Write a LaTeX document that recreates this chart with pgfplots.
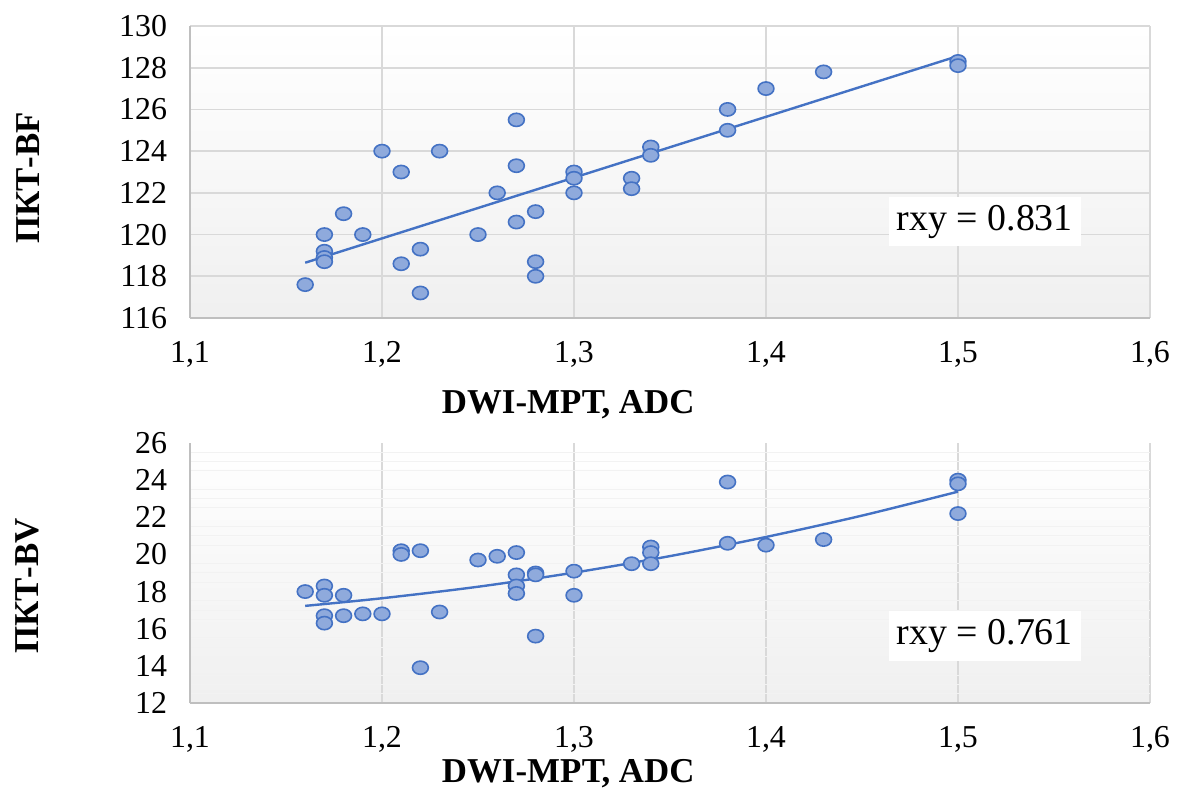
\documentclass[border=0pt]{standalone}
\usepackage{fontspec}
\setmainfont{Liberation Serif}
\usepackage{pgfplots}
\usepackage{pgfplotstable}
\pgfplotsset{compat=1.18}
\definecolor{mkfill}{HTML}{8FAADC}
\definecolor{mkline}{HTML}{4472C4}
\definecolor{gridc}{HTML}{D9D9D9}
\definecolor{axisc}{HTML}{BFBFBF}

\pgfplotstableread{
x y
1.16 117.6
1.17 120.0
1.17 119.2
1.17 118.9
1.17 118.7
1.18 121.0
1.19 120.0
1.20 124.0
1.21 123.0
1.21 118.6
1.22 119.3
1.22 117.2
1.23 124.0
1.25 120.0
1.26 122.0
1.27 125.5
1.27 123.3
1.27 120.6
1.28 121.1
1.28 118.7
1.28 118.0
1.30 123.0
1.30 122.7
1.30 122.0
1.33 122.7
1.33 122.2
1.34 124.2
1.34 123.8
1.38 126.0
1.38 125.0
1.40 127.0
1.43 127.8
1.50 128.3
1.50 128.1
}\bfdata

\pgfplotstableread{
x y
1.16 18.0
1.17 18.3
1.17 17.8
1.17 16.7
1.17 16.3
1.18 17.8
1.18 16.7
1.19 16.8
1.20 16.8
1.21 20.2
1.21 20.0
1.22 20.2
1.22 13.9
1.23 16.9
1.25 19.7
1.26 19.9
1.27 20.1
1.27 18.9
1.27 18.3
1.27 17.9
1.28 19.0
1.28 18.9
1.28 15.6
1.30 19.1
1.30 17.8
1.33 19.5
1.34 20.4
1.34 20.1
1.34 19.5
1.38 23.9
1.38 20.6
1.40 20.5
1.43 20.8
1.50 24.0
1.50 23.8
1.50 22.2
}\bvdata

\pgfplotsset{
  panel/.style={
    scale only axis,
    width=480bp,
    anchor=south west,
    xmin=1.1, xmax=1.6,
    xtick={1.1,1.2,1.3,1.4,1.5,1.6},
    xticklabels={{1,1},{1,2},{1,3},{1,4},{1,5},{1,6}},
    xmajorgrids,
    major grid style={gridc, line width=0.8bp},
    axis line style={axisc, line width=0.8bp},
    axis x line*=bottom,
    axis y line*=left,
    major tick length=0pt,
    minor tick length=0pt,
    tick label style={font=\fontsize{16}{18}\selectfont},
    xticklabel shift=8bp,
    yticklabel shift=8bp,
    /pgf/number format/assume math mode=true,
    label style={font=\fontsize{17.5}{19}\selectfont\bfseries},
    axis background/.style={shade, top color=white, bottom color=black!6},
    clip=false,
  },
  pts/.style={only marks, mark=*, mark size=3.3bp,
    mark options={xscale=1.2, fill=mkfill, draw=mkline, line width=0.8bp}},
  trend/.style={mkline, line width=1.2bp, no marks},
}

\begin{document}
\begin{tikzpicture}
\path[use as bounding box] (0,0) rectangle (589.5bp,397bp);

\begin{axis}[panel,
  at={(95bp,238bp)}, height=146bp,
  ymin=116, ymax=130, ytick={116,118,...,130},
  ymajorgrids,
  xlabel={DWI-МРТ, ADC},
  xlabel style={at={(axis description cs:0.394,-0.298)}, anchor=center},
  ylabel={ПКТ-BF},
  ylabel style={at={(axis description cs:-0.169,0.48)}, anchor=center},
]
\addplot[trend] coordinates {(1.16,118.65) (1.5,128.56)};
\addplot[pts] table[x=x,y=y] {\bfdata};
\node[fill=white, inner sep=4bp, font=\fontsize{19}{21}\selectfont]
  at (rel axis cs:0.828,0.33) {rxy = 0.831};
\end{axis}

\begin{axis}[panel,
  at={(95bp,45.5bp)}, height=130bp,
  ymin=12, ymax=26, ytick={12,14,...,26},
  minor y tick num=3,
  yminorgrids,
  minor grid style={black!5, line width=0.5bp},
  xlabel={DWI-МРТ, ADC},
  xlabel style={at={(axis description cs:0.394,-0.272)}, anchor=center},
  ylabel={ПКТ-BV},
  ylabel style={at={(axis description cs:-0.169,0.45)}, anchor=center},
]
\addplot[trend, smooth] coordinates {
  (1.16,17.23) (1.20,17.64) (1.25,18.26) (1.30,19.02) (1.35,19.91)
  (1.40,20.94) (1.45,22.09) (1.50,23.38)};
\addplot[pts] table[x=x,y=y] {\bvdata};
\node[fill=white, inner sep=4bp, font=\fontsize{19}{21}\selectfont]
  at (rel axis cs:0.828,0.258) {rxy = 0.761};
\end{axis}
\end{tikzpicture}
\end{document}
